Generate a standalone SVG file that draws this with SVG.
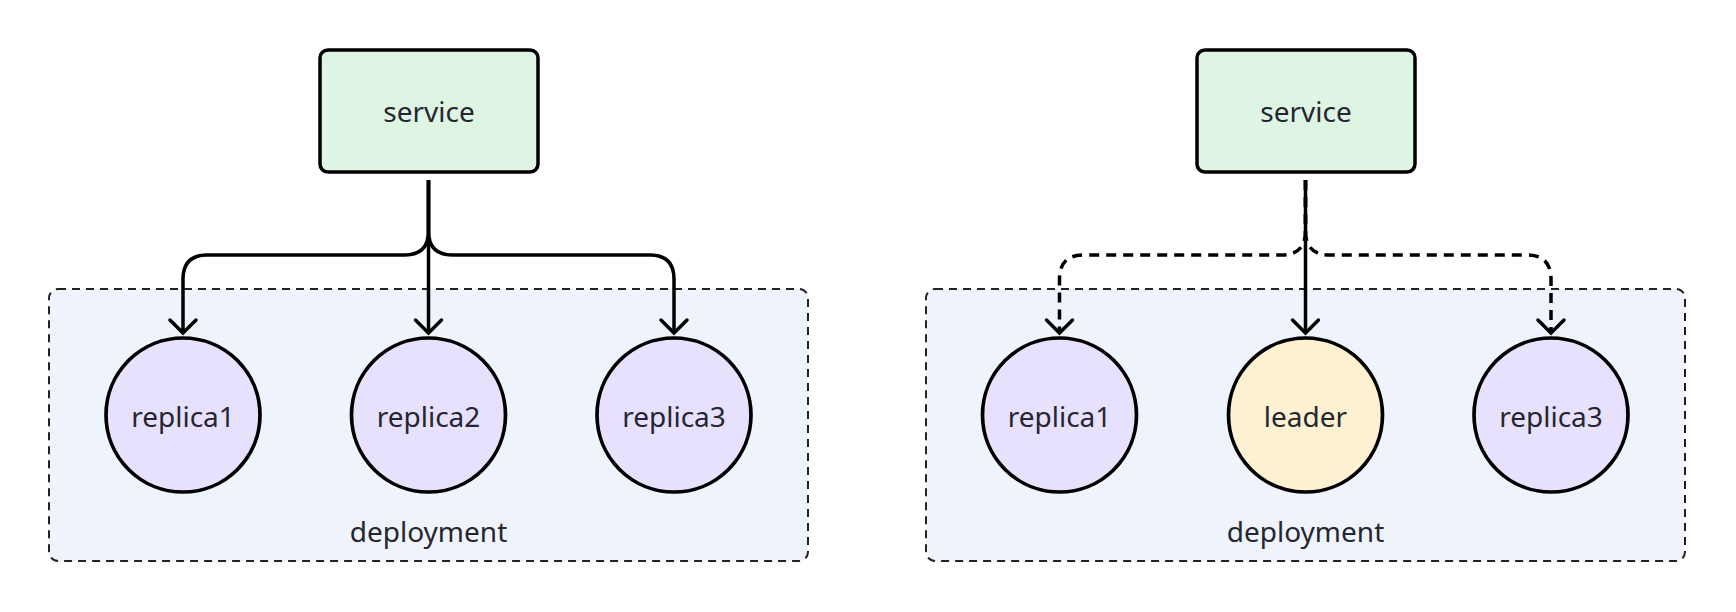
<svg xmlns="http://www.w3.org/2000/svg" width="1736" height="612" viewBox="0 0 1736 612">
<style>
text{font-family:"Noto Sans","Open Sans",sans-serif;font-size:28px;fill:#262630;text-anchor:middle}
.grp{fill:#eef3fc;stroke:#222;stroke-width:2;stroke-dasharray:8 6}
.svc{fill:#def5e4;stroke:#000;stroke-width:3.5}
.rep{fill:#e8e1fd;stroke:#000;stroke-width:3.7}
.lead{fill:#fdf1d1;stroke:#000;stroke-width:3.7}
.c{fill:none;stroke:#000;stroke-width:3.5;stroke-linecap:butt;stroke-linejoin:round}
.d{stroke-dasharray:10 7}
</style>
<defs>
<marker id="ah" markerUnits="userSpaceOnUse" markerWidth="40" markerHeight="40" viewBox="-20 -20 40 40" refX="0" refY="0" orient="auto" overflow="visible">
<path d="M-13,-13 L0,0 L-13,13" fill="none" stroke="#000" stroke-width="3.5" stroke-linecap="round" stroke-linejoin="miter" stroke-dasharray="none"/>
</marker>
</defs>
<g id="group-left"><rect class="grp" x="49" y="289" width="759" height="272" rx="9"/><text x="428.5" y="542">deployment</text></g>
<g id="group-right"><rect class="grp" x="926" y="289" width="759" height="272" rx="9"/><text x="1305.5" y="542">deployment</text></g>
<g id="service-left"><rect class="svc" x="320" y="50" width="218" height="122" rx="8"/><text x="429" y="122">service</text></g>
<g id="service-right"><rect class="svc" x="1197" y="50" width="218" height="122" rx="8"/><text x="1306" y="122">service</text></g>
<g id="l-replica1"><circle class="rep" cx="183" cy="415" r="77"/><text x="183" y="427">replica1</text></g>
<g id="l-replica2"><circle class="rep" cx="428.5" cy="415" r="77"/><text x="428.5" y="427">replica2</text></g>
<g id="l-replica3"><circle class="rep" cx="674" cy="415" r="77"/><text x="674" y="427">replica3</text></g>
<g id="r-replica1"><circle class="rep" cx="1059.5" cy="415" r="77"/><text x="1059.5" y="427">replica1</text></g>
<g id="r-leader"><circle class="lead" cx="1305.5" cy="415" r="77"/><text x="1305.5" y="427">leader</text></g>
<g id="r-replica3"><circle class="rep" cx="1551" cy="415" r="77"/><text x="1551" y="427">replica3</text></g>
<g id="connectors">
<path class="c" d="M428.5,180 V231 Q428.5,255 404.5,255 H207 Q183,255 183,279 V333" marker-end="url(#ah)"/>
<path class="c" d="M428.5,180 V333" marker-end="url(#ah)"/>
<path class="c" d="M428.5,180 V231 Q428.5,255 452.5,255 H650 Q674,255 674,279 V333" marker-end="url(#ah)"/>
<path class="c d" d="M1305.5,180 V231 Q1305.5,255 1281.5,255 H1083.5 Q1059.5,255 1059.5,279 V333" marker-end="url(#ah)"/>
<path class="c d" d="M1305.5,180 V231 Q1305.5,255 1329.5,255 H1527 Q1551,255 1551,279 V333" marker-end="url(#ah)"/>
<path class="c" d="M1305.5,180 V333" marker-end="url(#ah)"/>
</g>
</svg>
